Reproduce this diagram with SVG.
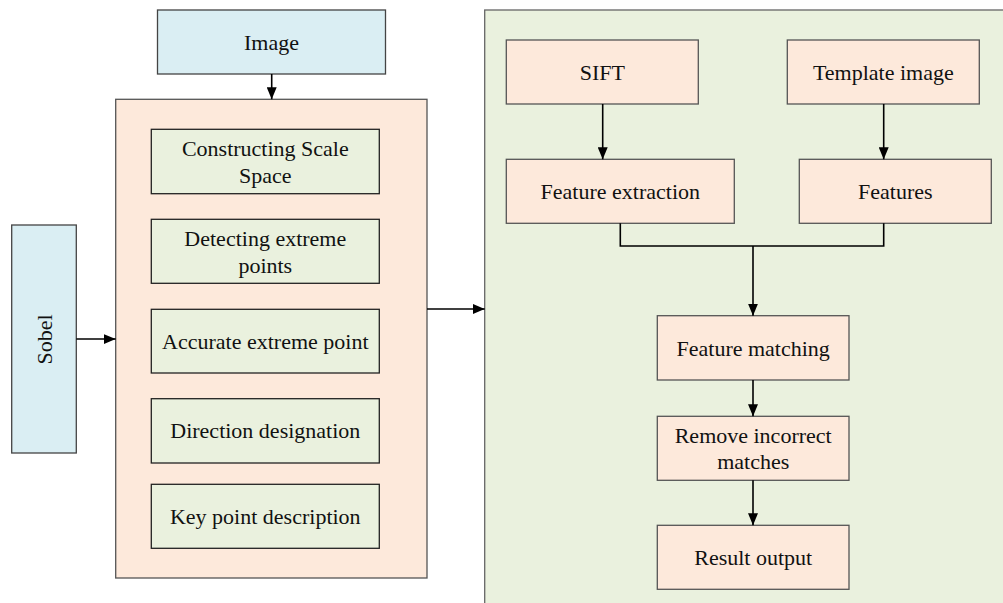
<svg xmlns="http://www.w3.org/2000/svg" width="1003" height="603" viewBox="0 0 1003 603">
<style>
text{font-family:"Liberation Serif","Times New Roman",serif;font-size:22px;fill:#111;text-anchor:middle}
.blue{fill:#DAEEF3;stroke:#444;stroke-width:1.3}
.green{fill:#EAF1DE;stroke:#222;stroke-width:1.3}
.cont{fill:#EAF1DE;stroke:#666;stroke-width:1.3}
.cp{fill:#FDE9DB;stroke:#555;stroke-width:1.3}
.ln{fill:none;stroke:#000;stroke-width:1.6}
</style>
<defs>
<marker id="ah" viewBox="0 0 12 10" refX="12" refY="5" markerWidth="12" markerHeight="10" markerUnits="userSpaceOnUse" orient="auto">
<path d="M0,0 L12,5 L0,10 Z" fill="#000"/>
</marker>
</defs>
<g id="container-left"><rect class="cp" x="115.7" y="99.3" width="311.3" height="478.7"/></g>
<g id="container-right"><rect class="cont" x="484.7" y="10" width="530" height="600"/></g>
<g id="image"><rect class="blue" x="157.5" y="10" width="228" height="64"/><text x="271.5" y="49.5">Image</text></g>
<g id="sobel"><rect class="blue" x="11.7" y="225" width="64.6" height="228"/><text transform="translate(51.5,339.5) rotate(-90)">Sobel</text></g>
<g id="scale"><rect class="green" x="151.3" y="129.3" width="228" height="64.4"/><text x="265.3" y="156">Constructing Scale</text><text x="265.3" y="182.5">Space</text></g>
<g id="detect"><rect class="green" x="151.3" y="219.3" width="228" height="64"/><text x="265.3" y="246">Detecting extreme</text><text x="265.3" y="272.5">points</text></g>
<g id="accurate"><rect class="green" x="151.3" y="309.3" width="228" height="63.7"/><text x="265.3" y="348.5">Accurate extreme point</text></g>
<g id="direction"><rect class="green" x="151.3" y="398.7" width="228" height="64.3"/><text x="265.3" y="438">Direction designation</text></g>
<g id="keypoint"><rect class="green" x="151.3" y="484.3" width="228" height="64"/><text x="265.3" y="523.5">Key point description</text></g>
<g id="sift"><rect class="cp" x="506.3" y="40" width="192" height="64"/><text x="602.3" y="79.5">SIFT</text></g>
<g id="template"><rect class="cp" x="787.3" y="40" width="192" height="64"/><text x="883.3" y="79.5">Template image</text></g>
<g id="extraction"><rect class="cp" x="506.3" y="159.3" width="228" height="64"/><text x="620.3" y="199">Feature extraction</text></g>
<g id="features"><rect class="cp" x="799.3" y="159.3" width="192" height="64"/><text x="895.3" y="199">Features</text></g>
<g id="matching"><rect class="cp" x="657.3" y="315.7" width="191.7" height="64.3"/><text x="753.2" y="355.5">Feature matching</text></g>
<g id="remove"><rect class="cp" x="657.3" y="416.3" width="191.7" height="64"/><text x="753.2" y="442.5">Remove incorrect</text><text x="753.2" y="469">matches</text></g>
<g id="result"><rect class="cp" x="657.3" y="525.3" width="191.7" height="64"/><text x="753.2" y="565">Result output</text></g>
<g id="connectors">
<line class="ln" x1="271.7" y1="74" x2="271.7" y2="99.3" marker-end="url(#ah)"/>
<line class="ln" x1="76.3" y1="339" x2="115.7" y2="339" marker-end="url(#ah)"/>
<line class="ln" x1="427" y1="309" x2="484.7" y2="309" marker-end="url(#ah)"/>
<line class="ln" x1="602.7" y1="104" x2="602.7" y2="159.3" marker-end="url(#ah)"/>
<line class="ln" x1="883.7" y1="104" x2="883.7" y2="159.3" marker-end="url(#ah)"/>
<polyline class="ln" points="620.3,223.3 620.3,246 883.7,246 883.7,223.3"/>
<line class="ln" x1="753" y1="246" x2="753" y2="315.7" marker-end="url(#ah)"/>
<line class="ln" x1="753" y1="380" x2="753" y2="416.3" marker-end="url(#ah)"/>
<line class="ln" x1="753" y1="480.3" x2="753" y2="525.3" marker-end="url(#ah)"/>
</g>
</svg>
